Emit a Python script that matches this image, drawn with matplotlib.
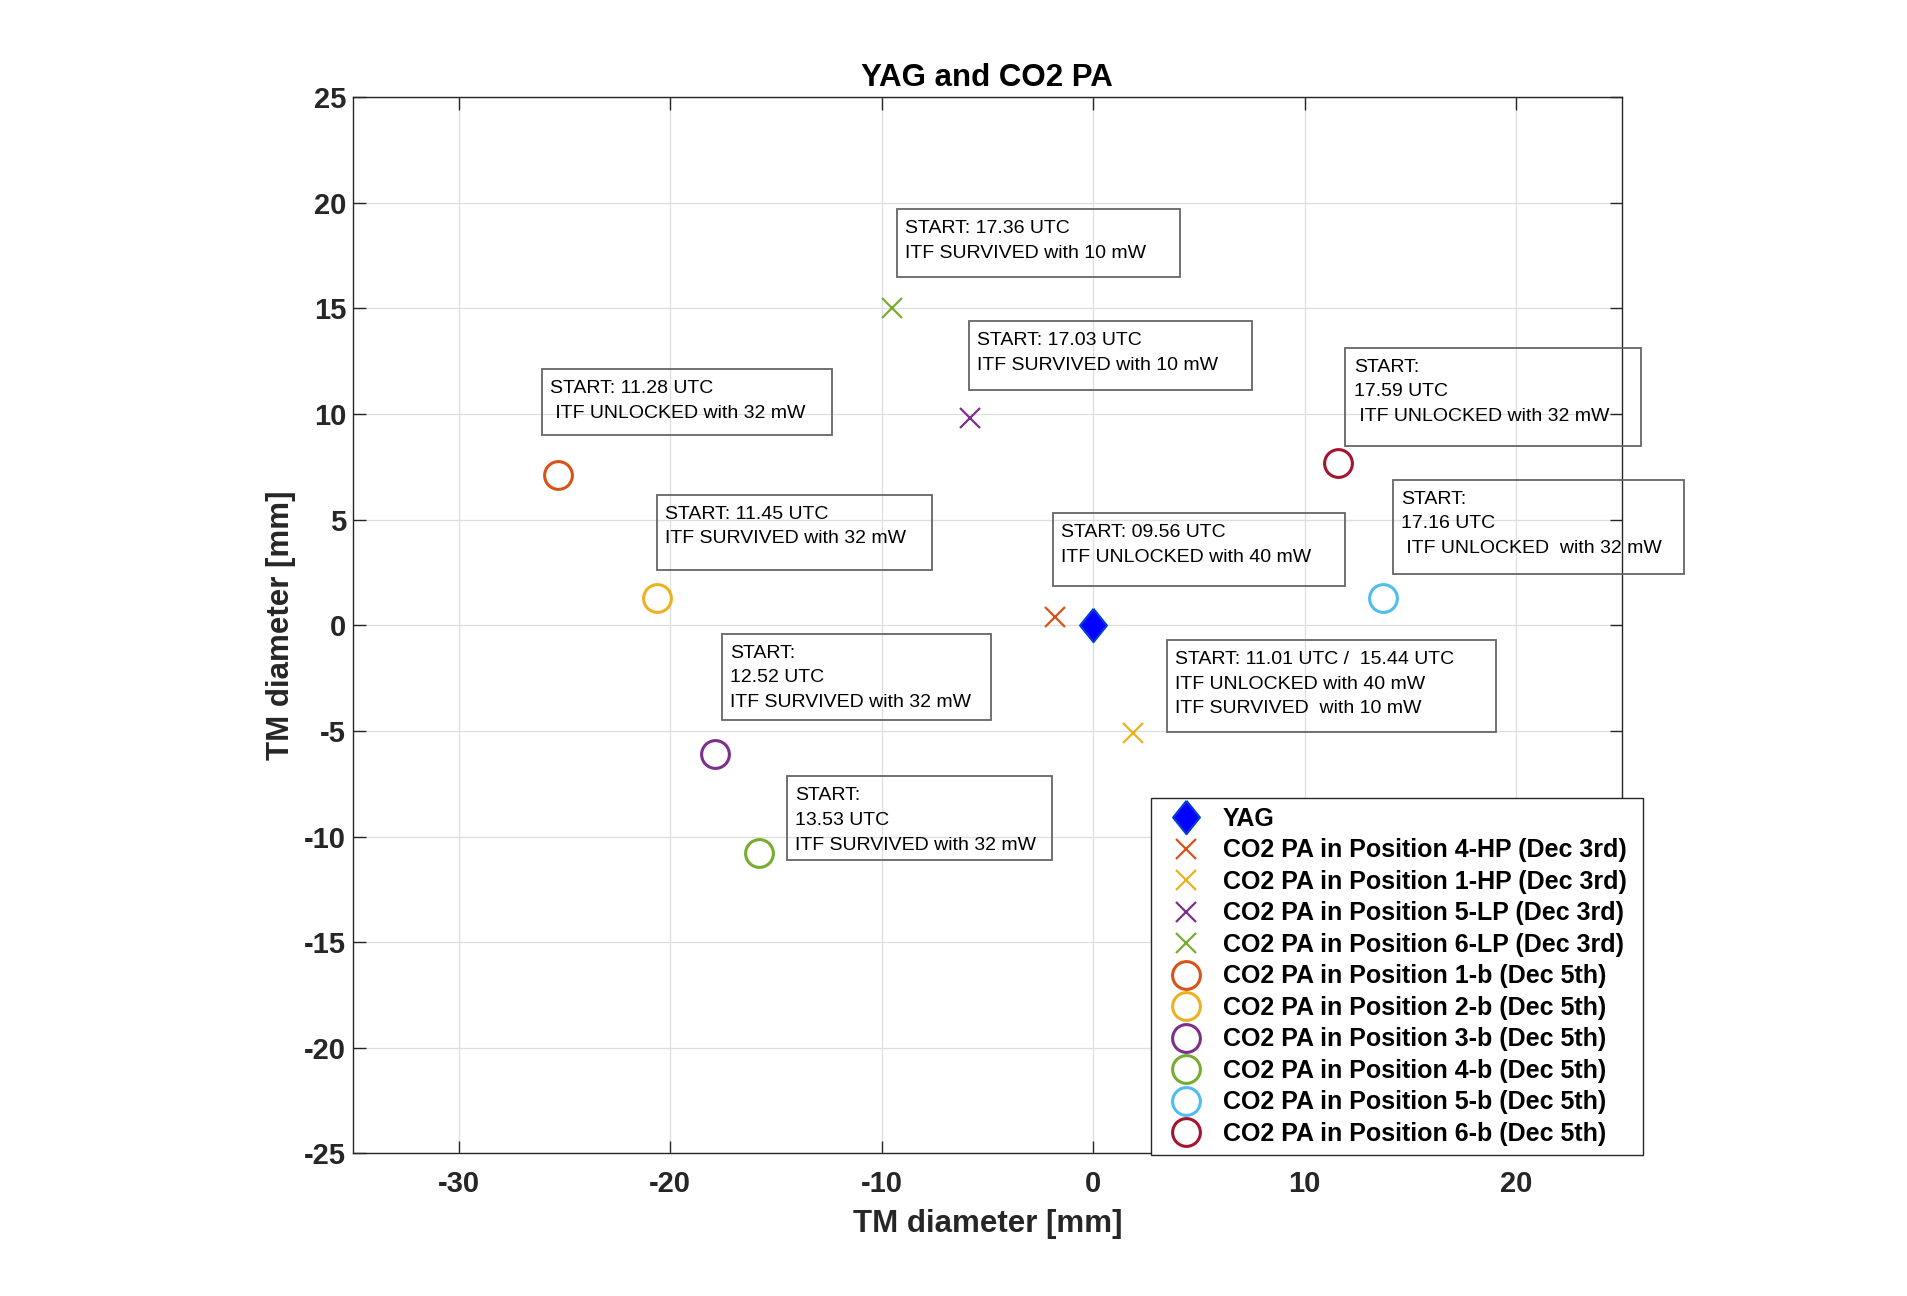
import matplotlib
matplotlib.use('Agg')
import matplotlib.pyplot as plt
from matplotlib.patches import Rectangle

plt.rcParams['font.family'] = ['Liberation Sans', 'DejaVu Sans']
plt.rcParams['axes.unicode_minus'] = False

# ---------------- data ----------------
series_labels = [
    'YAG',
    'CO2 PA in Position 4-HP (Dec 3rd)',
    'CO2 PA in Position 1-HP (Dec 3rd)',
    'CO2 PA in Position 5-LP (Dec 3rd)',
    'CO2 PA in Position 6-LP (Dec 3rd)',
    'CO2 PA in Position 1-b (Dec 5th)',
    'CO2 PA in Position 2-b (Dec 5th)',
    'CO2 PA in Position 3-b (Dec 5th)',
    'CO2 PA in Position 4-b (Dec 5th)',
    'CO2 PA in Position 5-b (Dec 5th)',
    'CO2 PA in Position 6-b (Dec 5th)',
]
x_mm = [0.0, -1.8, 1.9, -5.8, -9.5, -25.3, -20.6, -17.9, -15.8, 13.7, 11.6]
y_mm = [0.0, 0.4, -5.1, 9.8, 15.0, 7.1, 1.3, -6.1, -10.8, 1.3, 7.7]

x_ticks = [-30, -20, -10, 0, 10, 20]
y_ticks = [-25, -20, -15, -10, -5, 0, 5, 10, 15, 20, 25]

note_texts = [
    'START: 17.36 UTC\nITF SURVIVED with 10 mW',
    'START: 17.03 UTC\nITF SURVIVED with 10 mW',
    'START: 11.28 UTC\n ITF UNLOCKED with 32 mW',
    'START:\n17.59 UTC\n ITF UNLOCKED with 32 mW',
    'START: 11.45 UTC\nITF SURVIVED with 32 mW',
    'START:\n17.16 UTC\n ITF UNLOCKED  with 32 mW',
    'START: 09.56 UTC\nITF UNLOCKED with 40 mW',
    'START:\n12.52 UTC\nITF SURVIVED with 32 mW',
    'START: 11.01 UTC /  15.44 UTC\nITF UNLOCKED with 40 mW\nITF SURVIVED  with 10 mW',
    'START:\n13.53 UTC\nITF SURVIVED with 32 mW',
]

# ---------------- layout / style ----------------
note_boxes = [  # (left, bottom, right, top) in data units
    (-9.27, 16.47, 4.12, 19.70),
    (-5.87, 11.16, 7.52, 14.41),
    (-26.08, 8.99, -12.35, 12.14),
    (11.93, 8.50, 25.89, 13.14),
    (-20.64, 2.62, -7.62, 6.19),
    (14.17, 2.45, 27.96, 6.89),
    (-1.89, 1.88, 11.90, 5.31),
    (-17.56, -4.46, -4.84, -0.40),
    (3.49, -5.03, 19.07, -0.69),
    (-14.48, -11.10, -1.96, -7.15),
]

m_blue = (0.0, 0.0, 1.0)
c_orange = (0.850, 0.325, 0.098)
c_yellow = (0.929, 0.694, 0.125)
c_purple = (0.494, 0.184, 0.556)
c_green = (0.466, 0.674, 0.188)
c_cyan = (0.301, 0.745, 0.933)
c_red = (0.635, 0.078, 0.184)
colors = [m_blue, c_orange, c_yellow, c_purple, c_green,
          c_orange, c_yellow, c_purple, c_green, c_cyan, c_red]
diamond = [(0, 0.62), (0.5, 0), (0, -0.62), (-0.5, 0), (0, 0.62)]
markers = [diamond, 'x', 'x', 'x', 'x', 'o', 'o', 'o', 'o', 'o', 'o']
dark = (0.15, 0.15, 0.15)

fig = plt.figure(figsize=(19.08, 12.96), dpi=100)
ax = fig.add_axes([0.185, 0.110, 0.665, 0.815])

handles = []
for i in range(len(series_labels)):
    mk = markers[i]
    if i == 0:
        h, = ax.plot([x_mm[i]], [y_mm[i]], linestyle='none', marker=mk,
                     markersize=24, markerfacecolor=colors[i],
                     markeredgecolor=(0.0, 0.25, 0.85), markeredgewidth=1.5,
                     label=series_labels[i], zorder=3)
    elif mk == 'x':
        h, = ax.plot([x_mm[i]], [y_mm[i]], linestyle='none', marker='x',
                     markersize=15, markeredgecolor=colors[i],
                     markeredgewidth=1.6, label=series_labels[i], zorder=3)
    else:
        h, = ax.plot([x_mm[i]], [y_mm[i]], linestyle='none', marker='o',
                     markersize=20, markerfacecolor='none',
                     markeredgecolor=colors[i], markeredgewidth=2.2,
                     label=series_labels[i], zorder=3)
    handles.append(h)

ax.set_xlim(-35, 25)
ax.set_ylim(-25, 25)
ax.set_xticks(x_ticks)
ax.set_yticks(y_ticks)
ax.grid(True, color='#dedede', linewidth=0.9)
ax.set_axisbelow(True)
ax.tick_params(direction='in', length=9, width=1.0, top=True, right=True,
               labelsize=21, colors=dark)
ax.tick_params(axis='x', pad=12)
ax.tick_params(axis='y', pad=5)
for lbl in ax.get_xticklabels() + ax.get_yticklabels():
    lbl.set_fontweight('bold')
for sp in ax.spines.values():
    sp.set_linewidth(1.0)
    sp.set_color(dark)

ax.set_xlabel('TM diameter [mm]', fontsize=22.5, fontweight='bold',
              color=dark, labelpad=8)
ax.set_ylabel('TM diameter [mm]', fontsize=22.5, fontweight='bold',
              color=dark, labelpad=6)
ax.set_title('YAG and CO2 PA', fontsize=22.5, fontweight='bold', pad=8)

for txt, (l, b, r, t) in zip(note_texts, note_boxes):
    rect = Rectangle((l, b), r - l, t - b, fill=False, edgecolor=(0.4, 0.4, 0.4),
                     linewidth=1.3, clip_on=False, zorder=5)
    ax.add_patch(rect)
    ax.annotate(txt, xy=(l, t), xytext=(6, -8), textcoords='offset points',
                ha='left', va='top', fontsize=14, linespacing=1.58,
                annotation_clip=False, zorder=6)

leg = ax.legend(handles=handles, loc='lower left',
                bbox_to_anchor=(0.603, 0.109, 0.258, 0.277),
                bbox_transform=fig.transFigure, mode='expand',
                borderaxespad=0, prop={'weight': 'bold', 'size': 18},
                numpoints=1, handlelength=2.1, handletextpad=0.45,
                borderpad=0.35, labelspacing=0.30, fancybox=False,
                framealpha=1, edgecolor=dark)
leg.get_frame().set_linewidth(1.0)
leg.set_zorder(10)

fig.savefig('out.png', dpi=100, facecolor='white')
